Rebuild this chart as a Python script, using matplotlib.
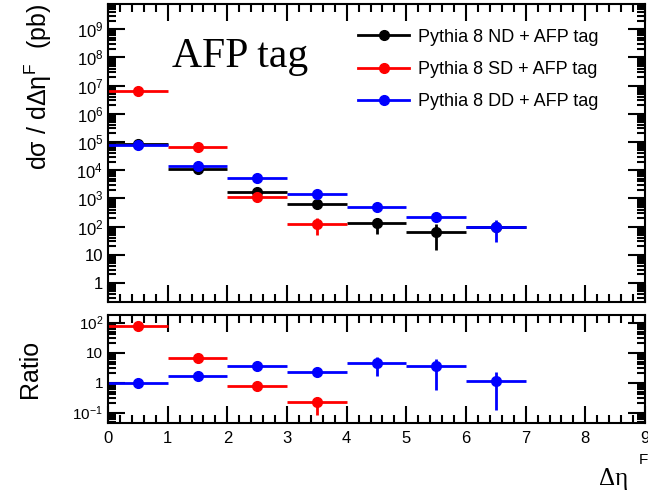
import matplotlib.pyplot as plt
import numpy as np
from matplotlib.lines import Line2D
from matplotlib.ticker import LogLocator, MultipleLocator, FuncFormatter, NullFormatter

plt.rcParams['font.family'] = ['Liberation Sans', 'DejaVu Sans']
plt.rcParams['mathtext.fontset'] = 'custom'
plt.rcParams['mathtext.rm'] = 'Liberation Sans'
plt.rcParams['mathtext.it'] = 'Liberation Sans'

# bins in delta eta^F
bin_centers = [0.5, 1.5, 2.5, 3.5, 4.5, 5.5, 6.5]

# dsigma/d(delta eta^F) in pb
nd_vals = [8.7e4, 1.1e4, 1.7e3, 620, 130, 66, 100]
nd_lo = [0, 0, 0, 0, 77, 51, 0]
nd_hi = [0, 0, 0, 0, 66, 57, 0]

sd_vals = [6.5e6, 6.5e4, 1.15e3, 120]
sd_lo = [0, 0, 0, 70]
sd_hi = [0, 0, 0, 80]

dd_vals = [7.8e4, 1.45e4, 5.2e3, 1.4e3, 510, 224, 100]
dd_lo = [0, 0, 0, 0, 0, 0, 71]
dd_hi = [0, 0, 0, 0, 0, 0, 70]

# ratios to ND
ratio_sd = [74, 6.6, 0.74, 0.22]
ratio_sd_lo = [0, 0, 0, 0.14]
ratio_sd_hi = [0, 0, 0, 0.10]

ratio_dd = [0.95, 1.6, 3.5, 2.3, 4.4, 3.5, 1.1]
ratio_dd_lo = [0, 0, 0, 0, 2.8, 2.93, 0.98]
ratio_dd_hi = [0, 0, 0, 0, 2.5, 2.7, 1.1]

labels = ['Pythia 8 ND + AFP tag', 'Pythia 8 SD + AFP tag', 'Pythia 8 DD + AFP tag']
colors = ['black', '#ff0000', '#0000ff']

fig = plt.figure(figsize=(6.48, 4.94), dpi=100)
ax = fig.add_axes([0.1667, 0.3887, 0.8287, 0.6032])
axr = fig.add_axes([0.1667, 0.1437, 0.8287, 0.2186])


def draw(a, vals, lo, hi, color):
    n = len(vals)
    a.errorbar(bin_centers[:n], vals, xerr=0.5, yerr=[lo, hi], fmt='o',
               color=color, ms=7, lw=2, capsize=0)


draw(ax, nd_vals, nd_lo, nd_hi, colors[0])
draw(ax, sd_vals, sd_lo, sd_hi, colors[1])
draw(ax, dd_vals, dd_lo, dd_hi, colors[2])

draw(axr, ratio_sd, ratio_sd_lo, ratio_sd_hi, colors[1])
draw(axr, ratio_dd, ratio_dd_lo, ratio_dd_hi, colors[2])


def log_fmt(v, pos):
    e = int(round(np.log10(v)))
    if e == 0:
        return '1'
    if e == 1:
        return '10'
    return r'$10^{%d}$' % e


for a in (ax, axr):
    a.set_yscale('log')
    a.set_xlim(0, 9)
    a.xaxis.set_major_locator(MultipleLocator(1))
    a.xaxis.set_minor_locator(MultipleLocator(0.2))
    a.yaxis.set_major_locator(LogLocator(base=10, numticks=20))
    a.yaxis.set_minor_locator(LogLocator(base=10, subs=np.arange(2, 10), numticks=20))
    a.yaxis.set_major_formatter(FuncFormatter(log_fmt))
    a.yaxis.set_minor_formatter(NullFormatter())
    a.tick_params(which='both', direction='in', top=True, right=True, labelsize=11, width=1.5)
    a.tick_params(which='major', length=12)
    a.tick_params(which='minor', length=6)
    for s in a.spines.values():
        s.set_linewidth(1.5)

ax.set_ylim(10 ** -0.674, 10 ** 9.89)
axr.set_ylim(10 ** -1.35, 10 ** 2.25)
ax.tick_params(axis='x', labelbottom=False)
ax.tick_params(axis='y', labelsize=12)
axr.tick_params(axis='x', pad=6, labelsize=12)

ax.set_ylabel(r'd$\sigma$ / d$\Delta\eta^{\mathrm{F}}$  (pb)', fontsize=18, loc='top')
axr.set_ylabel('Ratio', fontsize=18)
ax.yaxis.set_label_coords(-0.10, 1.0)
axr.yaxis.set_label_coords(-0.123, 0.5)

fig.text(0.925, 0.008, 'Δη', fontsize=18, family='Liberation Serif', ha='left', va='bottom')
fig.text(0.985, 0.055, 'F', fontsize=11, ha='left', va='bottom')

ax.text(0.12, 0.822, 'AFP tag', transform=ax.transAxes, fontsize=30,
        family='Liberation Serif', ha='left', va='center')

handles = [Line2D([], [], color=c, marker='o', ms=7, lw=2) for c in colors]
ax.legend(handles, labels, loc='upper left', bbox_to_anchor=(0.466, 0.917),
          frameon=False, fontsize=13, handlelength=2.8, handletextpad=0.5,
          labelspacing=0.85, borderpad=0, borderaxespad=0)

fig.savefig('out.png', dpi=100)
